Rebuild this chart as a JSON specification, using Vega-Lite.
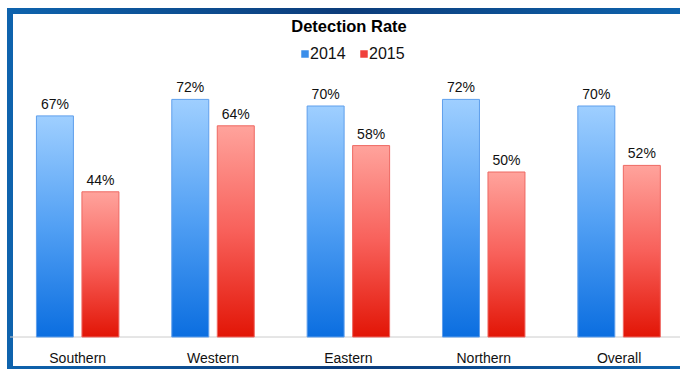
{
  "$schema": "https://vega.github.io/schema/vega-lite/v6.json",
  "width": 670,
  "height": 358,
  "autosize": {"type": "none"},
  "padding": {"left": 10, "top": 11, "right": 0, "bottom": 0},
  "background": "white",
  "config": {
    "font": "Liberation Sans",
    "view": {
      "stroke": {
        "gradient": "linear", "x1": 0, "y1": 0, "x2": 1, "y2": 0,
        "stops": [
          {"offset": 0, "color": "#0e63ad"},
          {"offset": 0.5, "color": "#0c3c7a"},
          {"offset": 1, "color": "#0e63ad"}
        ]
      },
      "strokeWidth": 6,
      "strokeDash": [670, 358, 1028]
    }
  },
  "title": {
    "text": "Detection Rate",
    "fontSize": 16.5,
    "fontWeight": "bold",
    "color": "#000000",
    "anchor": "middle",
    "frame": "group",
    "baseline": "alphabetic",
    "offset": -37,
    "dx": 4
  },
  "data": {
    "values": [
      {"region": "Southern", "year": "2014", "rate": 0.67},
      {"region": "Southern", "year": "2015", "rate": 0.44},
      {"region": "Western", "year": "2014", "rate": 0.72},
      {"region": "Western", "year": "2015", "rate": 0.64},
      {"region": "Eastern", "year": "2014", "rate": 0.70},
      {"region": "Eastern", "year": "2015", "rate": 0.58},
      {"region": "Northern", "year": "2014", "rate": 0.72},
      {"region": "Northern", "year": "2015", "rate": 0.50},
      {"region": "Overall", "year": "2014", "rate": 0.70},
      {"region": "Overall", "year": "2015", "rate": 0.52}
    ]
  },
  "layer": [
    {
      "data": {"values": [{}]},
      "mark": {"type": "rule", "stroke": "#cccccc", "strokeWidth": 1},
      "encoding": {
        "y": {"datum": 0, "type": "quantitative", "scale": {"domain": [-0.09697, 0.9879], "nice": false, "zero": false}, "axis": null}
      }
    },
    {
      "mark": {"type": "bar", "strokeWidth": 1},
      "encoding": {
        "x": {
          "field": "region", "type": "nominal",
          "sort": ["Southern", "Western", "Eastern", "Northern", "Overall"],
          "scale": {"range": [0, 676.75], "paddingInner": 0, "paddingOuter": 0},
          "axis": {
            "title": null, "orient": "bottom", "domain": false, "ticks": false, "grid": false,
            "labelAngle": 0, "labelFontSize": 14, "labelColor": "#111111",
            "labelBaseline": "alphabetic", "labelPadding": 0, "offset": -7
          }
        },
        "xOffset": {"field": "year", "type": "nominal", "scale": {"domain": ["2014", "2015"], "paddingInner": 0.187, "paddingOuter": 0.581}},
        "y": {"field": "rate", "type": "quantitative", "scale": {"domain": [-0.09697, 0.9879], "nice": false, "zero": false}, "axis": null},
        "y2": {"datum": 0},
        "fill": {
          "condition": {
            "test": "datum.year === '2014'",
            "value": {
              "gradient": "linear", "x1": 0, "y1": 0, "x2": 0, "y2": 1,
              "stops": [
                {"offset": 0, "color": "#9fcfff"},
                {"offset": 0.5, "color": "#52a0f4"},
                {"offset": 1, "color": "#0b6ee0"}
              ]
            }
          },
          "value": {
            "gradient": "linear", "x1": 0, "y1": 0, "x2": 0, "y2": 1,
            "stops": [
              {"offset": 0, "color": "#ffa39c"},
              {"offset": 0.5, "color": "#f8605a"},
              {"offset": 1, "color": "#e21506"}
            ]
          }
        },
        "stroke": {
          "condition": {"test": "datum.year === '2014'", "value": "#5f9fec"},
          "value": "#ee6862"
        }
      }
    },
    {
      "mark": {"type": "text", "dy": -7, "baseline": "alphabetic", "fontSize": 14, "color": "#111111"},
      "encoding": {
        "x": {"field": "region", "type": "nominal", "sort": ["Southern", "Western", "Eastern", "Northern", "Overall"]},
        "xOffset": {"field": "year", "type": "nominal"},
        "y": {"field": "rate", "type": "quantitative"},
        "text": {"field": "rate", "type": "quantitative", "format": ".0%"}
      }
    },
    {
      "mark": {"type": "point", "shape": "square", "filled": true, "opacity": 0},
      "encoding": {
        "x": {"field": "region", "type": "nominal", "sort": ["Southern", "Western", "Eastern", "Northern", "Overall"]},
        "y": {"field": "rate", "type": "quantitative"},
        "color": {
          "field": "year", "type": "nominal",
          "scale": {"domain": ["2014", "2015"], "range": ["#3b8eea", "#f0403a"]},
          "legend": {
            "orient": "none", "legendX": 287, "legendY": 35, "direction": "horizontal",
            "title": null, "symbolType": "square", "symbolSize": 56,
            "symbolOpacity": 1, "symbolStrokeWidth": 0,
            "labelFontSize": 16, "labelColor": "#111111", "labelOffset": -3,
            "columnPadding": 10, "padding": 0
          }
        }
      }
    }
  ]
}
